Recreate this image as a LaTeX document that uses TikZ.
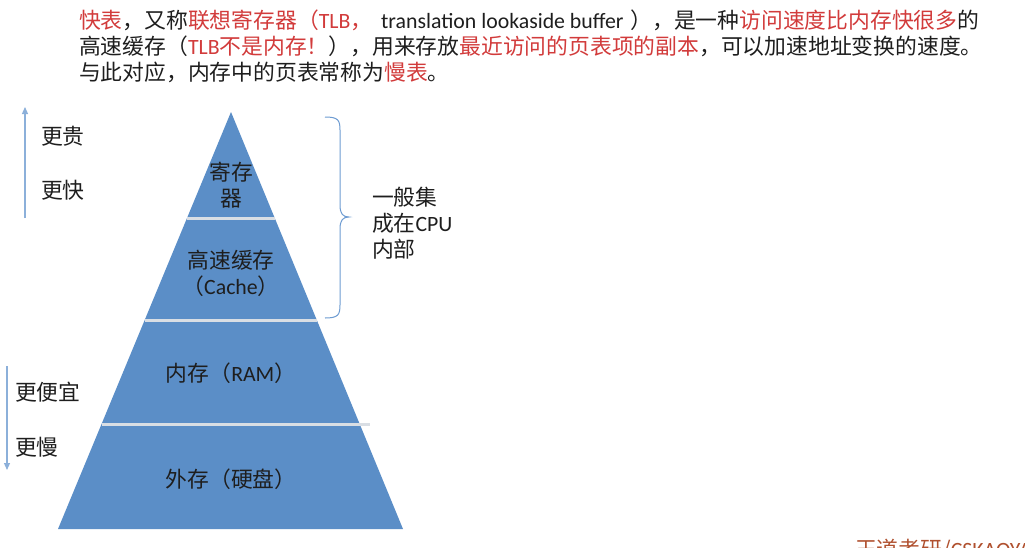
\documentclass[tikz,border=0pt]{standalone}
\usepackage{fontspec}
\setmainfont{Noto Sans CJK SC}
\newfontfamily\lat{Carlito}
\usetikzlibrary{arrows.meta}
\definecolor{pyblue}{HTML}{5B8EC7}
\definecolor{sepgray}{HTML}{D9DEE4}
\definecolor{arrblue}{HTML}{8CB0DA}
\definecolor{bracecol}{HTML}{6E9CD2}
\definecolor{txtred}{HTML}{D23B3B}
\definecolor{txtdark}{HTML}{1E1E1E}
\definecolor{wmred}{HTML}{B0502E}
\newcommand{\hl}[1]{\textcolor{txtred}{#1}}
\tikzset{
  every node/.style={inner sep=0pt, outer sep=0pt, font=\fontsize{21.8}{26}\selectfont, text=txtdark},
  para/.style={anchor=base west},
  lvl/.style={anchor=center, align=center},
  lbl/.style={anchor=west},
  sepline/.style={draw=sepgray, line width=3pt},
  side/.style={draw=arrblue, line width=1.2pt, -{Triangle[length=7pt,width=6pt]}},
  bracestyle/.style={draw=bracecol, line width=1pt},
}
\begin{document}
\begin{tikzpicture}[x=1pt,y=-1pt]
\clip (0,0) rectangle (1025,547);
\fill[white] (0,0) rectangle (1025,547);

% top paragraph
\node[para] (l1) at (79,28) {\hl{快表}，又称\hl{联想寄存器（{\lat TLB}，}{\lat\hspace{4pt} translation lookaside buffer}\hspace{7pt}），是一种\hl{访问速度比内存快很多}的};
\node[para] (l2) at (79,54) {高速缓存（\hl{{\lat TLB}不是内存！}），用来存放\hl{最近访问的页表项的副本}，可以加速地址变换的速度。};
\node[para] (l3) at (79,80) {与此对应，内存中的页表常称为\hl{慢表}。};

% pyramid
\coordinate (apex) at (231,112);
\coordinate (bl) at (58,529);
\coordinate (br) at (403,529);
\fill[pyblue] (apex) -- (bl) -- (br) -- cycle;

\coordinate (s1l) at (187,218); \coordinate (s1r) at (275,218);
\coordinate (s2l) at (145,320); \coordinate (s2r) at (317,320);
\coordinate (s3l) at (102,424); \coordinate (s3r) at (370,424);
\draw[sepline] (s1l) -- (s1r);
\draw[sepline] (s2l) -- (s2r);
\draw[sepline] (s3l) -- (s3r);

\node[lvl] (reg) at (231,185) {寄存\\器};
\node[lvl] (cache) at (231,273) {高速缓存\\（{\lat Cache}）};
\node[lvl] (ram) at (231,373) {内存（{\lat RAM}）};
\node[lvl] (disk) at (231,479) {外存（硬盘）};

% side arrows
\coordinate (upa) at (25,218); \coordinate (upb) at (25,107);
\draw[side] (upa) -- (upb);
\node[lbl] (gui) at (41,136) {更贵};
\node[lbl] (kuai) at (41,190) {更快};

\coordinate (dna) at (7,366); \coordinate (dnb) at (7,470);
\draw[side] (dna) -- (dnb);
\node[lbl] (pianyi) at (15,392) {更便宜};
\node[lbl] (man) at (15,447) {更慢};

% brace
\coordinate (bt) at (325,117);
\coordinate (btip) at (349,217);
\coordinate (bb) at (325,318);
\draw[bracestyle] (bt) .. controls (338,117) and (340,120) .. (340,130)
  -- (340,205) .. controls (340,214) and (343,217) .. (btip)
  .. controls (343,217) and (340,220) .. (340,229)
  -- (340,305) .. controls (340,315) and (338,318) .. (bb);
\node[lvl, anchor=west, align=left] (cpu) at (372,223) {一般集\\成在{\lat CPU}\\内部};

% watermark
\node[anchor=base west, text=wmred] (wm) at (855,557) {王道考研/{\lat CSKAOYAN}};
\end{tikzpicture}
\end{document}
